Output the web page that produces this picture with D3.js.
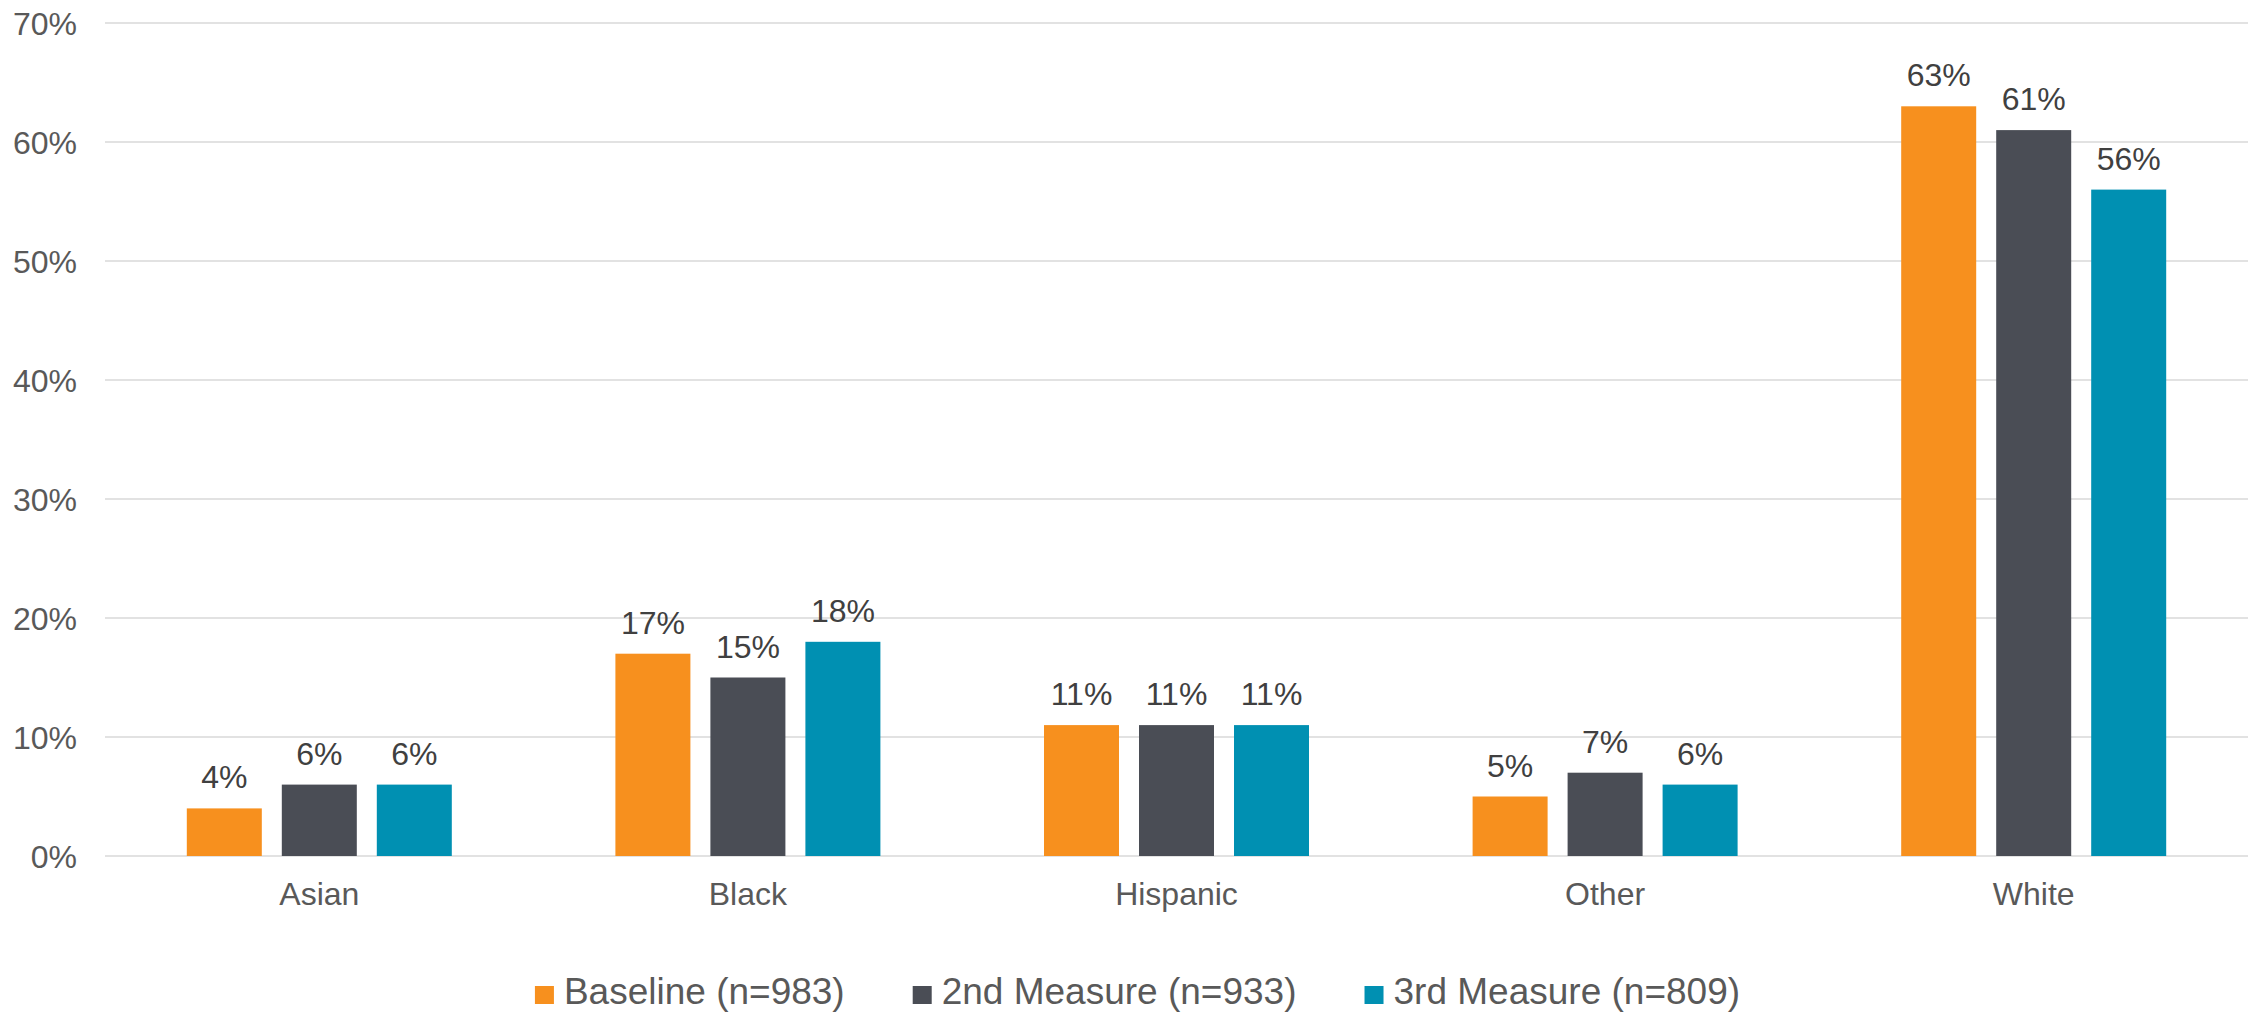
<!DOCTYPE html>
<html>
<head>
<meta charset="utf-8">
<script src="https://cdn.jsdelivr.net/npm/d3@7"></script>
<style>
  html, body { margin: 0; padding: 0; background: #fff; }
  svg { display: block; font-family: "Liberation Sans", Arial, sans-serif; }
</style>
</head>
<body>
<svg id="chart" width="2260" height="1015"></svg>
<script>
const categories = ["Asian", "Black", "Hispanic", "Other", "White"];
const seriesNames = ["Baseline (n=983)", "2nd Measure (n=933)", "3rd Measure (n=809)"];
const baselineValues = [4, 17, 11, 5, 63];
const secondValues = [6, 15, 11, 7, 61];
const thirdValues = [6, 18, 11, 6, 56];
const yTicks = [0, 10, 20, 30, 40, 50, 60, 70];
const colors = ["#F7901E", "#4A4D55", "#0090B2"];

const seriesValues = [baselineValues, secondValues, thirdValues];

const svg = d3.select("#chart");
const plotLeft = 105, plotRight = 2248, plotTop = 23, plotBottom = 856;

const y = d3.scaleLinear().domain([0, 70]).range([plotBottom, plotTop]);
const x0 = d3.scaleBand().domain(categories).range([plotLeft, plotRight]).padding(0);
const groupW = 265;
const x1 = d3.scaleBand().domain(d3.range(seriesNames.length)).range([0, groupW]).paddingInner(20 / 95).paddingOuter(0);

// gridlines
const grid = svg.append("g").attr("class", "grid");
grid.selectAll("line").data(yTicks).join("line")
  .attr("x1", plotLeft).attr("x2", plotRight)
  .attr("y1", d => y(d)).attr("y2", d => y(d))
  .attr("stroke", "#d9d9d9").attr("stroke-width", 1.6);

// y axis labels
const yAxis = d3.axisLeft(y).tickValues(yTicks).tickFormat(d => d + "%").tickSize(0).tickPadding(0);
const yg = svg.append("g").attr("transform", "translate(77,0)").call(yAxis);
yg.select(".domain").remove();
yg.selectAll("text").attr("font-size", 32).attr("fill", "#595959")
  .attr("font-family", "'Liberation Sans', Arial, sans-serif").attr("dy", "0.35em");

// x axis labels
const xAxis = d3.axisBottom(x0).tickSize(0).tickPadding(0);
const xg = svg.append("g").attr("transform", `translate(0,${plotBottom})`).call(xAxis);
xg.select(".domain").remove();
xg.selectAll("text").attr("font-size", 32).attr("fill", "#595959")
  .attr("font-family", "'Liberation Sans', Arial, sans-serif").attr("dy", null).attr("y", 49);

// bars
const data = [];
categories.forEach((c, ci) => {
  seriesValues.forEach((vals, si) => data.push({ c, si, v: vals[ci] }));
});
const groupX = c => x0(c) + x0.bandwidth() / 2 - groupW / 2;

svg.append("g").selectAll("rect").data(data).join("rect")
  .attr("x", d => groupX(d.c) + x1(d.si))
  .attr("width", x1.bandwidth())
  .attr("y", d => y(d.v))
  .attr("height", d => y(0) - y(d.v))
  .attr("fill", d => colors[d.si]);

svg.append("g").selectAll("text").data(data).join("text")
  .attr("x", d => groupX(d.c) + x1(d.si) + x1.bandwidth() / 2)
  .attr("y", d => y(d.v) - 20)
  .attr("text-anchor", "middle")
  .attr("font-size", 32)
  .attr("fill", "#404040")
  .text(d => d.v + "%");

// legend
const legend = svg.append("g");
const items = legend.selectAll("g").data(seriesNames).join("g");
items.append("rect").attr("width", 19).attr("height", 18).attr("y", 986).attr("fill", (d, i) => colors[i]);
items.append("text").attr("x", 29).attr("y", 1004).attr("font-size", 37).attr("fill", "#595959").text(d => d);
let xpos = 0;
const gap = 68;
items.each(function () {
  const g = d3.select(this);
  g.attr("transform", `translate(${xpos},0)`);
  const tw = g.select("text").node().getComputedTextLength();
  xpos += 29 + tw + gap;
});
const totalW = xpos - gap;
legend.attr("transform", `translate(${1137.5 - totalW / 2},0)`);
</script>
</body>
</html>
